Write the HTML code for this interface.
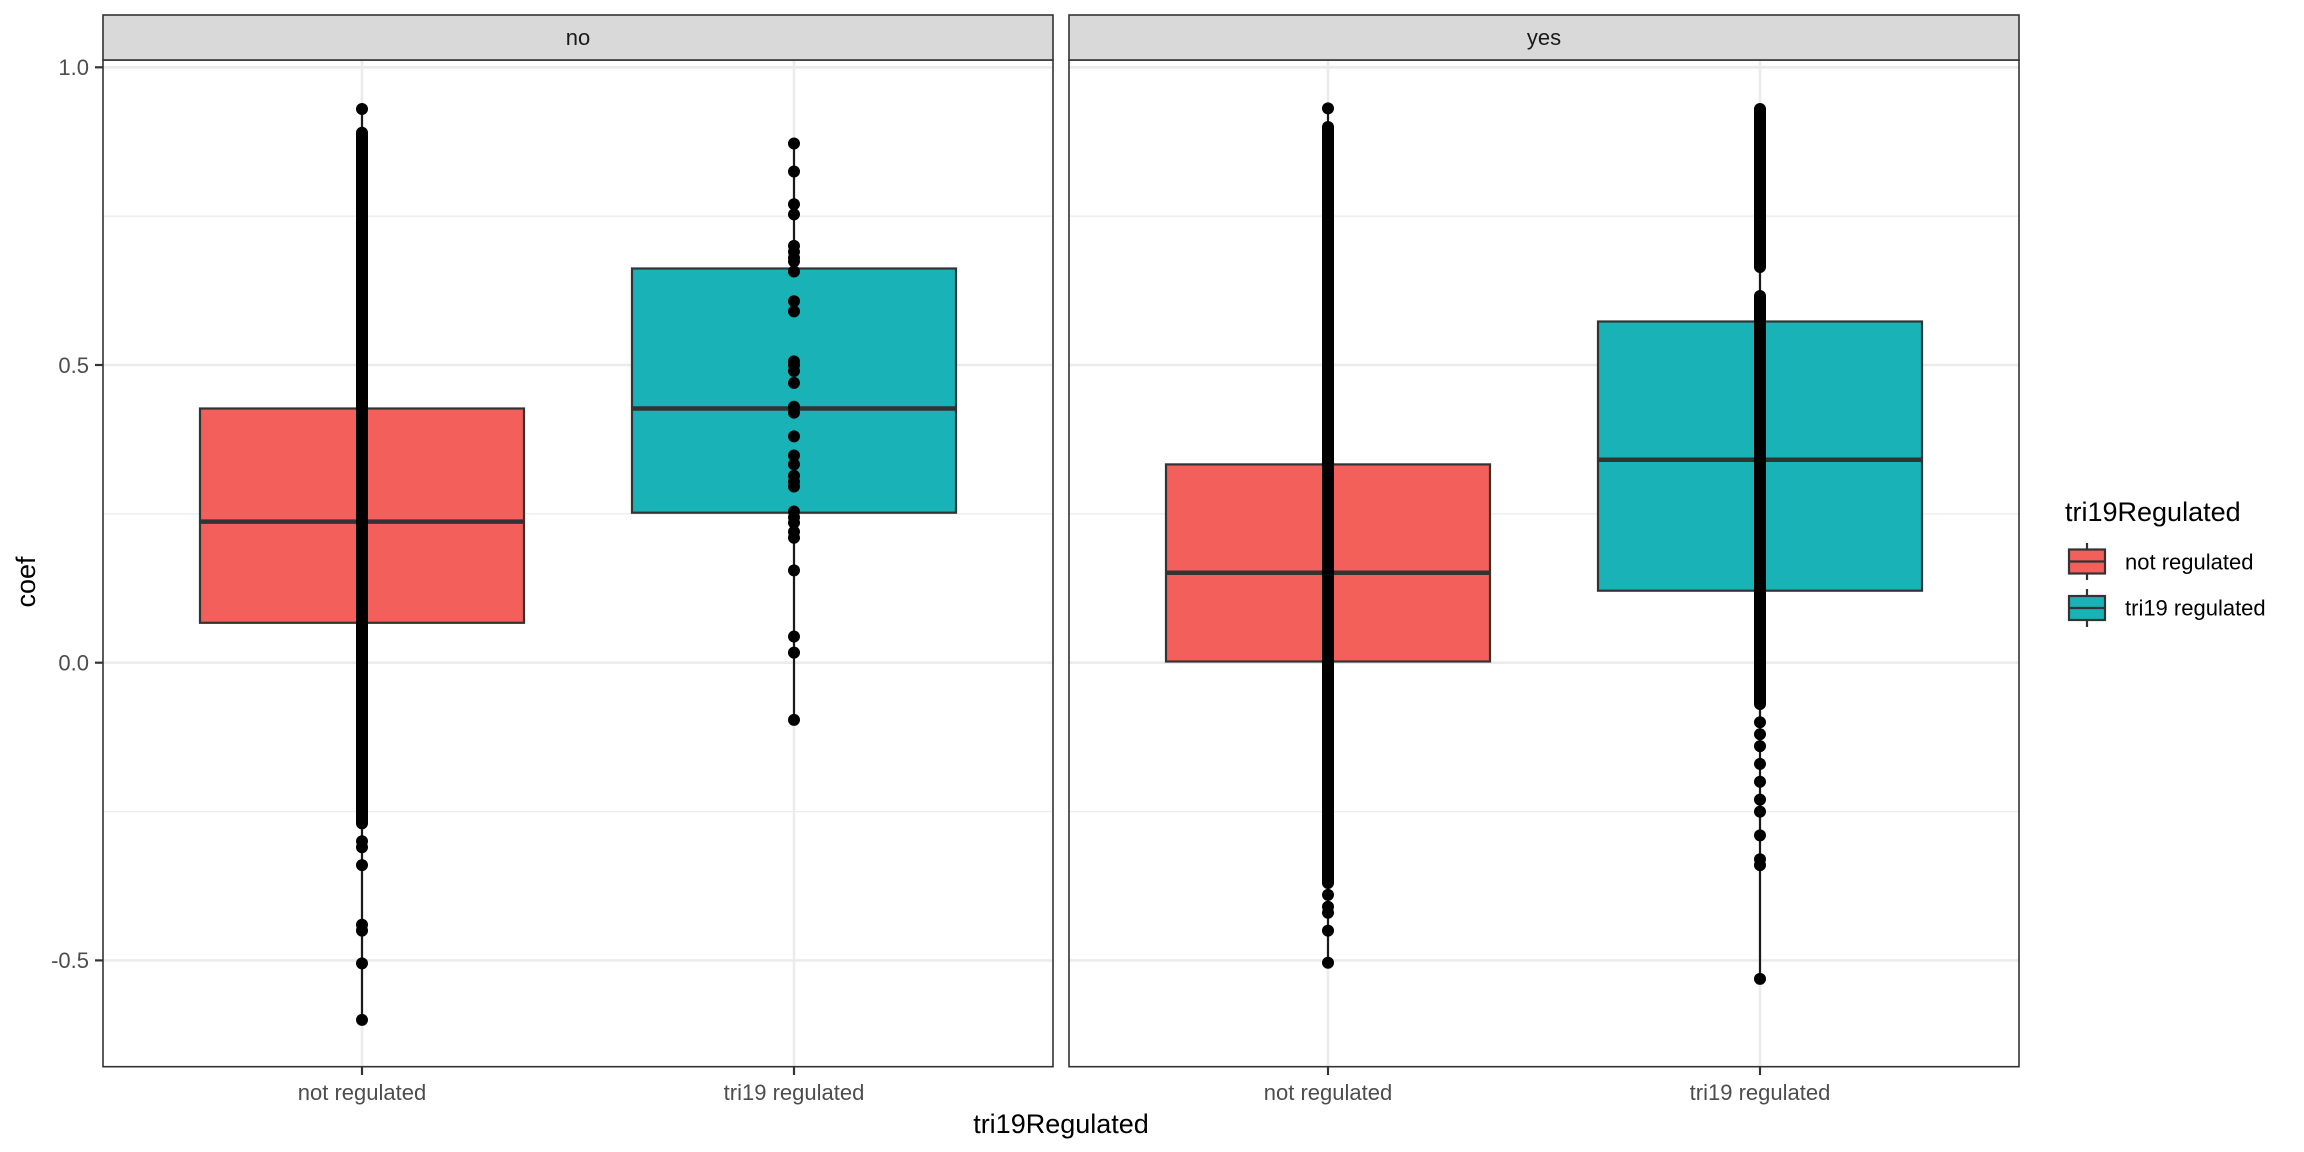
<!DOCTYPE html>
<html><head><meta charset="utf-8"><style>
html,body{margin:0;padding:0;background:#fff;}
svg{display:block;font-family:"Liberation Sans",Arial,sans-serif;}
</style></head><body>
<svg width="2304" height="1152" viewBox="0 0 2304 1152" xmlns="http://www.w3.org/2000/svg">
<rect width="2304" height="1152" fill="#fff"/>
<defs>
<g id="grid">
<line x1="0" x2="950" y1="216.1" y2="216.1" stroke="#EBEBEB" stroke-width="1.3"/>
<line x1="0" x2="950" y1="513.9" y2="513.9" stroke="#EBEBEB" stroke-width="1.3"/>
<line x1="0" x2="950" y1="811.6" y2="811.6" stroke="#EBEBEB" stroke-width="1.3"/>
<line x1="0" x2="950" y1="67.3" y2="67.3" stroke="#EBEBEB" stroke-width="2.6"/>
<line x1="0" x2="950" y1="365" y2="365" stroke="#EBEBEB" stroke-width="2.6"/>
<line x1="0" x2="950" y1="662.7" y2="662.7" stroke="#EBEBEB" stroke-width="2.6"/>
<line x1="0" x2="950" y1="960.4" y2="960.4" stroke="#EBEBEB" stroke-width="2.6"/>
<line x1="259" x2="259" y1="60" y2="1066.7" stroke="#EBEBEB" stroke-width="2.6"/>
<line x1="691" x2="691" y1="60" y2="1066.7" stroke="#EBEBEB" stroke-width="2.6"/>
</g>
</defs>
<g transform="translate(103,0)"><use href="#grid"/></g>
<g transform="translate(1069,0)"><use href="#grid"/></g>

<g stroke="#333" stroke-width="2.2">
<line x1="362" x2="362" y1="109" y2="1020" stroke="#1a1a1a"/>
<rect x="200" y="408.5" width="324" height="214.3" fill="#F3605B"/>
<line x1="200" x2="524" y1="521.6" y2="521.6" stroke-width="4.5"/>
<line x1="794" x2="794" y1="143.5" y2="720" stroke="#1a1a1a"/>
<rect x="632" y="268.5" width="324" height="244.2" fill="#19B2B7"/>
<line x1="632" x2="956" y1="408.5" y2="408.5" stroke-width="4.5"/>
</g>
<g fill="#000">
<rect x="356" y="126.8" width="12" height="702.6" rx="6"/>
<circle cx="362" cy="109" r="6"/><circle cx="362" cy="841.3" r="6"/><circle cx="362" cy="847.3" r="6"/><circle cx="362" cy="865.1" r="6"/><circle cx="362" cy="924.7" r="6"/><circle cx="362" cy="930.6" r="6"/><circle cx="362" cy="963.4" r="6"/><circle cx="362" cy="1019.9" r="6"/>
<circle cx="794" cy="143.5" r="6"/><circle cx="794" cy="171.5" r="6"/><circle cx="794" cy="204.2" r="6"/><circle cx="794" cy="214.4" r="6"/><circle cx="794" cy="245.9" r="6"/><circle cx="794" cy="251.9" r="6"/><circle cx="794" cy="257.8" r="6"/><circle cx="794" cy="261.4" r="6"/><circle cx="794" cy="271.5" r="6"/><circle cx="794" cy="301.3" r="6"/><circle cx="794" cy="311.4" r="6"/><circle cx="794" cy="361.4" r="6"/><circle cx="794" cy="365" r="6"/><circle cx="794" cy="371" r="6"/><circle cx="794" cy="382.9" r="6"/><circle cx="794" cy="406.7" r="6"/><circle cx="794" cy="412.6" r="6"/><circle cx="794" cy="436.4" r="6"/><circle cx="794" cy="455.5" r="6"/><circle cx="794" cy="464.4" r="6"/><circle cx="794" cy="475.7" r="6"/><circle cx="794" cy="481.7" r="6"/><circle cx="794" cy="486.5" r="6"/><circle cx="794" cy="511.5" r="6"/><circle cx="794" cy="517.4" r="6"/><circle cx="794" cy="522.8" r="6"/><circle cx="794" cy="531.7" r="6"/><circle cx="794" cy="537.7" r="6"/><circle cx="794" cy="570.4" r="6"/><circle cx="794" cy="636.5" r="6"/><circle cx="794" cy="652.6" r="6"/><circle cx="794" cy="719.9" r="6"/>
</g>

<g stroke="#333" stroke-width="2.2">
<line x1="1328" x2="1328" y1="108" y2="963" stroke="#1a1a1a"/>
<rect x="1166" y="464.4" width="324" height="197.1" fill="#F3605B"/>
<line x1="1166" x2="1490" y1="572.8" y2="572.8" stroke-width="4.5"/>
<line x1="1760" x2="1760" y1="109" y2="979" stroke="#1a1a1a"/>
<rect x="1598" y="321.5" width="324" height="269.2" fill="#19B2B7"/>
<line x1="1598" x2="1922" y1="459.7" y2="459.7" stroke-width="4.5"/>
</g>
<g fill="#000">
<circle cx="1328" cy="108.4" r="6"/>
<rect x="1322" y="121" width="12" height="768" rx="6"/>
<circle cx="1328" cy="894.9" r="6"/><circle cx="1328" cy="906.8" r="6"/><circle cx="1328" cy="912.8" r="6"/><circle cx="1328" cy="930.6" r="6"/><circle cx="1328" cy="962.8" r="6"/>
<rect x="1754" y="103" width="12" height="170" rx="6"/>
<rect x="1754" y="290" width="12" height="420" rx="6"/>
<circle cx="1760" cy="722.2" r="6"/><circle cx="1760" cy="734.2" r="6"/><circle cx="1760" cy="746.1" r="6"/><circle cx="1760" cy="763.9" r="6"/><circle cx="1760" cy="781.8" r="6"/><circle cx="1760" cy="799.6" r="6"/><circle cx="1760" cy="811.6" r="6"/><circle cx="1760" cy="835.4" r="6"/><circle cx="1760" cy="859.2" r="6"/><circle cx="1760" cy="865.1" r="6"/><circle cx="1760" cy="978.9" r="6"/>
</g>

<rect x="103" y="60" width="950" height="1006.7" fill="none" stroke="#333" stroke-width="1.6"/>
<rect x="1069" y="60" width="950" height="1006.7" fill="none" stroke="#333" stroke-width="1.6"/>
<rect x="103" y="15" width="950" height="45" fill="#D9D9D9" stroke="#333" stroke-width="1.6"/>
<rect x="1069" y="15" width="950" height="45" fill="#D9D9D9" stroke="#333" stroke-width="1.6"/>
<text x="578" y="45" font-size="22" fill="#1A1A1A" text-anchor="middle">no</text>
<text x="1544" y="45" font-size="22" fill="#1A1A1A" text-anchor="middle">yes</text>

<g stroke="#333" stroke-width="2.2">
<line x1="95" x2="103" y1="67.3" y2="67.3"/><line x1="95" x2="103" y1="365" y2="365"/><line x1="95" x2="103" y1="662.7" y2="662.7"/><line x1="95" x2="103" y1="960.4" y2="960.4"/>
<line x1="362" x2="362" y1="1067" y2="1075"/><line x1="794" x2="794" y1="1067" y2="1075"/><line x1="1328" x2="1328" y1="1067" y2="1075"/><line x1="1760" x2="1760" y1="1067" y2="1075"/>
</g>
<g font-size="22" fill="#4D4D4D" text-anchor="end">
<text x="89" y="75">1.0</text><text x="89" y="373">0.5</text><text x="89" y="670.5">0.0</text><text x="89" y="968">-0.5</text>
</g>
<g font-size="22" fill="#4D4D4D" text-anchor="middle">
<text x="362" y="1100">not regulated</text><text x="794" y="1100">tri19 regulated</text>
<text x="1328" y="1100">not regulated</text><text x="1760" y="1100">tri19 regulated</text>
</g>
<text x="1061" y="1133" font-size="27" fill="#000" text-anchor="middle">tri19Regulated</text>
<text transform="translate(35,582) rotate(-90)" font-size="27" fill="#000" text-anchor="middle">coef</text>

<text x="2065" y="521" font-size="27" fill="#000">tri19Regulated</text>
<g stroke="#333" stroke-width="2.2">
<line x1="2087" x2="2087" y1="543" y2="580"/>
<rect x="2069" y="549.5" width="36" height="24" fill="#F3605B"/>
<line x1="2069" x2="2105" y1="561.5" y2="561.5"/>
<line x1="2087" x2="2087" y1="589" y2="627"/>
<rect x="2069" y="596" width="36" height="24" fill="#19B2B7"/>
<line x1="2069" x2="2105" y1="608" y2="608"/>
</g>
<g font-size="22" fill="#000">
<text x="2125" y="569.5">not regulated</text>
<text x="2125" y="615.5">tri19 regulated</text>
</g>
</svg>
</body></html>
